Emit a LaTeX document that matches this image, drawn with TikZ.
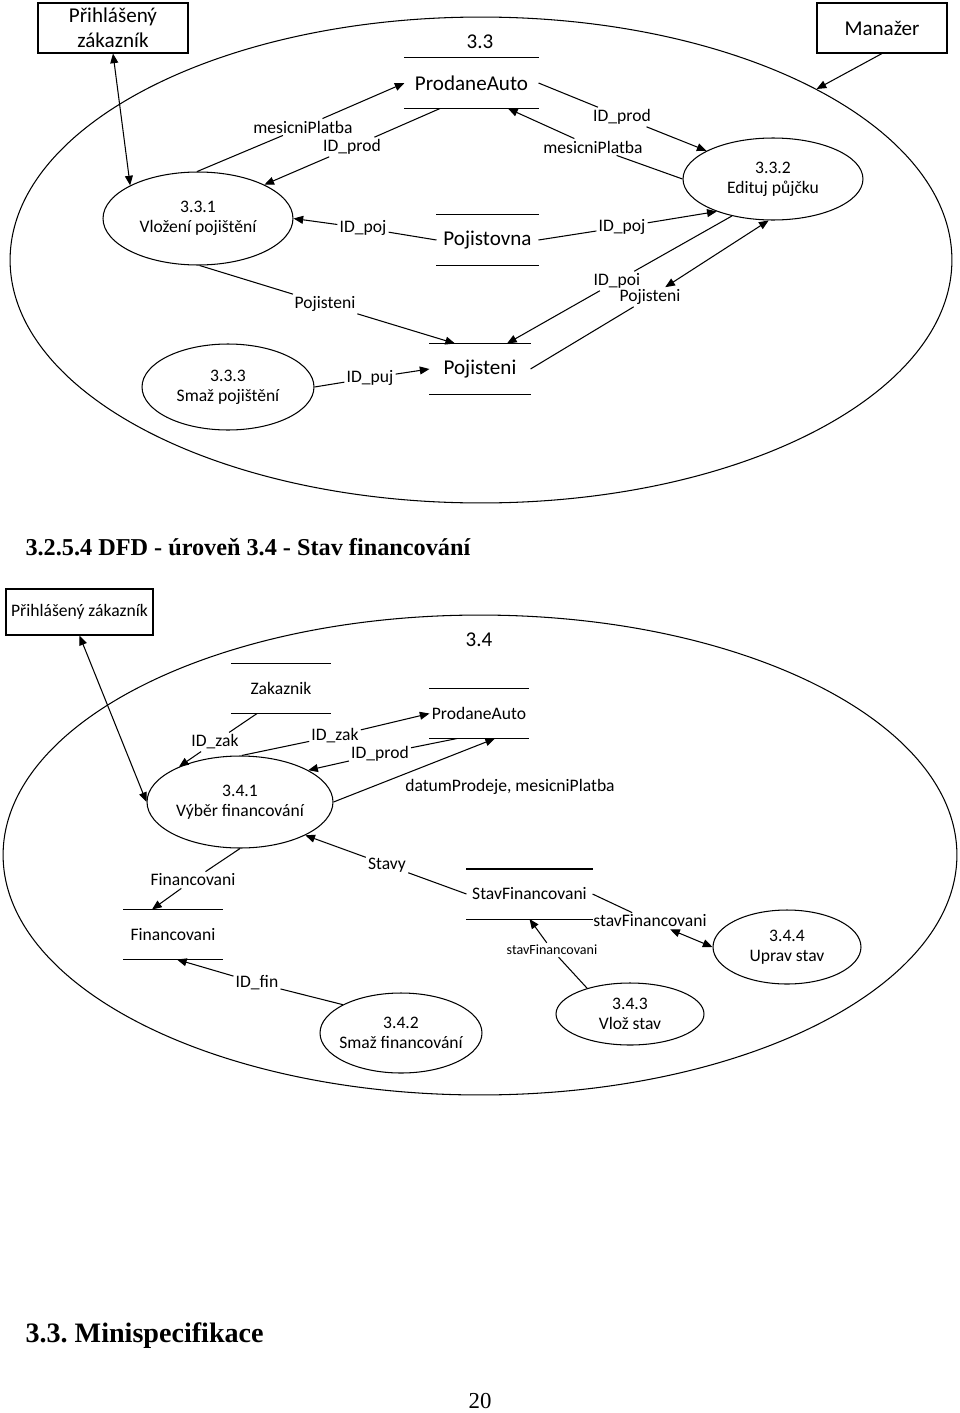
\documentclass[tikz,border=0pt]{standalone}
\usepackage{fontspec}
\setmainfont{Carlito}
\newfontfamily\headfont{Liberation Serif}
\usetikzlibrary{shapes.geometric,arrows.meta}
\frenchspacing

\begin{document}
\begin{tikzpicture}[x=0.02cm, y=-0.02cm, line width=0.6pt,
	>={Triangle[length=5.5pt,width=4.5pt]},
	proc/.style={ellipse, draw, align=center, inner xsep=-10pt, inner ysep=0pt, font=\fontsize{10}{11.5}\selectfont},
	bigproc/.style={ellipse, draw, inner sep=0pt},
	ext/.style={draw, align=center, inner sep=0pt, font=\fontsize{12}{14}\selectfont},
	store/.style={minimum height=1cm, inner sep=0pt, font=\fontsize{12}{14}\selectfont},
	smallstore/.style={store, minimum height=0.98cm, minimum width=1.96cm, font=\fontsize{10}{12}\selectfont},
	lbl/.style={inner sep=1pt, font=\fontsize{10}{12}\selectfont},
	heading/.style={anchor=west, inner sep=0pt, font=\headfont\bfseries\fontsize{#1}{#1}\selectfont}
	]
	\useasboundingbox (0,0) rectangle (960,1413);

	\node[bigproc, minimum width=18.84cm, minimum height=9.72cm] (p33) at (481,260) {};
	\node[ext, minimum width=3cm, minimum height=1cm] (zak) at (113,28) {Přihlášený\\zákazník};
	\node[ext, minimum width=2.6cm, minimum height=1cm] (man) at (882,28) {Manažer};
	\node[lbl, font=\fontsize{12}{14}\selectfont] (t33) at (480,42) {3.3};
	\node[store, minimum width=2.66cm] (pa) at (471.5,83) {ProdaneAuto};
	\node[store, minimum width=2.02cm] (pv) at (487.5,240) {Pojistovna};
	\node[store, minimum width=2cm] (pi) at (480,369) {Pojisteni};
	\node[proc, minimum width=3.8cm, minimum height=1.86cm] (p331) at (198,218.5) {3.3.1\\Vložení pojištění};
	\node[proc, minimum width=3.6cm, minimum height=1.64cm] (p332) at (773,179) {3.3.2\\Edituj půjčku};
	\node[proc, minimum width=3.44cm, minimum height=1.72cm] (p333) at (228,387) {3.3.3\\Smaž pojištění};

	\node[lbl] (m1) at (303,127) {mesicniPlatba};
	\node[lbl] (m2) at (352,147) {ID\_prod};
	\node[lbl] (m3) at (622,117) {ID\_prod};
	\node[lbl] (m4) at (593,147) {mesicniPlatba};
	\node[lbl] (m5) at (363,228) {ID\_poj};
	\node[lbl] (m6) at (622,227) {ID\_poj};
	\node[lbl] (m7) at (325,304) {Pojisteni};
	\node[lbl] (m8) at (617,281) {ID\_poi};
	\node[lbl] (m9) at (650,297) {Pojisteni};
	\node[lbl] (m10) at (370,378) {ID\_puj};

	\draw[<->] (zak.south) -- (p331.154);
	\draw[->] (man.south) -- (p33.27);
	\draw[->] (p331.91) -- (m1) -- (pa.west);
	\draw[->] ([xshift=-0.63cm]pa.south) -- (m2) -- (p331.27);
	\draw[->] (pa.east) -- (m3) -- (p332.157);
	\draw[->] (p332.180) -- (m4) -- ([xshift=0.73cm]pa.south);
	\draw[->] (pv.west) -- (m5) -- (p331.0);
	\draw[->] (pv.east) -- (m6) -- (p332.210);
	\draw[->] (p331.-88) -- (m7) -- ([xshift=-0.5cm]pi.north);
	\draw[->] (p332.222) -- (m8) -- ([xshift=0.54cm]pi.north);
	\draw[<->] (pi.east) -- (m9) -- (p332.264);
	\draw[->] (p333.0) -- (m10) -- (pi.west);

	\node[heading=13.8] (h1) at (25,547) {3.2.5.4 DFD - úroveň 3.4 - Stav financování};

	\node[bigproc, minimum width=19.08cm, minimum height=9.6cm] (p34) at (480,855) {};
	\node[ext, font=\fontsize{10}{12}\selectfont, minimum width=2.94cm, minimum height=0.92cm] (zak2) at (79.5,612) {Přihlášený zákazník};
	\node[lbl, font=\fontsize{12}{14}\selectfont] (t34) at (479,640) {3.4};
	\node[smallstore] (zk) at (281,688.5) {Zakaznik};
	\node[smallstore] (pb) at (479,713.5) {ProdaneAuto};
	\node[smallstore] (fi) at (173,934.5) {Financovani};
	\node[smallstore, minimum width=2.5cm] (sf) at (529.5,894) {StavFinancovani};
	\node[proc, minimum width=3.72cm, minimum height=1.84cm] (p341) at (240,802) {3.4.1\\Výběr financování};
	\node[proc, minimum width=3.24cm, minimum height=1.6cm] (p342) at (401,1033) {3.4.2\\Smaž financování};
	\node[proc, minimum width=2.96cm, minimum height=1.24cm] (p343) at (630,1014) {3.4.3\\Vlož stav};
	\node[proc, minimum width=2.96cm, minimum height=1.48cm] (p344) at (787,947) {3.4.4\\Uprav stav};

	\node[lbl] (n1) at (215,742) {ID\_zak};
	\node[lbl] (n2) at (335,736) {ID\_zak};
	\node[lbl] (n3) at (380,754) {ID\_prod};
	\node[lbl, anchor=west] (n4) at (403,787) {datumProdeje, mesicniPlatba};
	\node[lbl] (n5) at (387,865) {Stavy};
	\node[lbl] (n6) at (193,880) {Financovani};
	\node[lbl] (n7) at (257,983) {ID\_fin};
	\node[lbl] (n8) at (650,921) {stavFinancovani};
	\node[lbl, font=\fontsize{8}{10}\selectfont] (n9) at (552,950) {stavFinancovani};

	\foreach \s in {pa,pv,pi,zk,pb,fi,sf}
		\draw (\s.north west) -- (\s.north east) (\s.south west) -- (\s.south east);

	\draw[<->] (zak2.south) -- (p341.180);
	\draw[->] ([xshift=-0.48cm]zk.south) -- (n1) -- (p341.150);
	\draw[->] (p341.88) -- (n2) -- (pb.west);
	\draw[->] ([xshift=-0.44cm]pb.south) -- (n3) -- (p341.25);
	\draw[->] (p341.0) -- ([xshift=0.32cm]pb.south);
	\draw[->] (sf.west) -- (n5) -- (p341.333);
	\draw[->] (p341.270) -- (n6) -- ([xshift=-0.42cm]fi.north);
	\draw[->] (p342.154) -- (n7) -- ([xshift=0.08cm]fi.south);
	\draw[<->] (sf.east) -- (n8) -- (p344.180);
	\draw[->] (p343.149) -- (n9) -- (sf.south);

	\node[heading=16] (h2) at (25,1336) {3.3. Minispecifikace};
	\node[inner sep=0pt, font=\headfont\fontsize{13}{13}\selectfont] (pg) at (480,1401) {20};
\end{tikzpicture}
\end{document}
